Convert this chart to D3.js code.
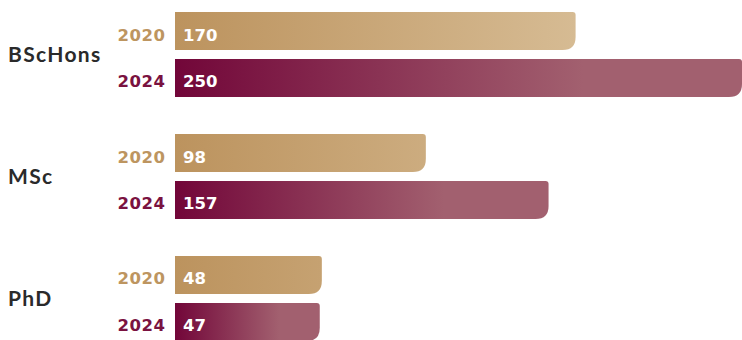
<!DOCTYPE html>
<html>
<head>
<meta charset="utf-8">
<script src="https://cdn.jsdelivr.net/npm/d3@7"></script>
<style>
  body { margin: 0; background: #fff; }
  svg { display: block; font-family: Lato, "Open Sans", sans-serif; }
  .num { font-family: "DejaVu Sans", sans-serif; }
</style>
</head>
<body>
<svg id="chart"></svg>
<script>
// data
const degrees = ["BScHons", "MSc", "PhD"];
const years = ["2020", "2024"];
const values2020 = [170, 98, 48];
const values2024 = [250, 157, 47];

const w = 742;
const h = 340;
const barStart = 175;

const yearColor = {"2020": "#bd9560", "2024": "#7a1240"};

let rows = [];
degrees.forEach((d, i) => {
	rows.push({degree: d, year: "2020", value: values2020[i]});
	rows.push({degree: d, year: "2024", value: values2024[i]});
});

let svg = d3.select("#chart")
			.attr("width", w)
			.attr("height", h);

let y0 = d3.scaleBand()
			.domain(degrees)
			.range([12, 341])
			.paddingInner(0.303)
			.paddingOuter(0);

let y1 = d3.scaleBand()
			.domain(years)
			.range([0, y0.bandwidth()])
			.paddingInner(0.19);

// bar length scale (bars have a minimum length in this design)
let len = d3.scaleLinear()
			.domain([0, 250])
			.range([47, 567]);

/* gradients */
let defs = svg.append("defs");

let gold = defs.append("linearGradient")
			.attr("id", "grad2020")
			.attr("gradientUnits", "userSpaceOnUse")
			.attr("x1", barStart).attr("x2", barStart + len(170))
			.attr("y1", 0).attr("y2", 0);
gold.append("stop").attr("offset", 0).attr("stop-color", "#bc935e");
gold.append("stop").attr("offset", 1).attr("stop-color", "#d6bb93");

let maroon = defs.append("linearGradient")
			.attr("id", "grad2024")
			.attr("x1", 0).attr("x2", 1)
			.attr("y1", 0).attr("y2", 0);
maroon.append("stop").attr("offset", 0).attr("stop-color", "#720639");
maroon.append("stop").attr("offset", 0.72).attr("stop-color", "#a2606f");
maroon.append("stop").attr("offset", 1).attr("stop-color", "#a2606f");

function barPath(x, y, width, height){
	let rt = 3, rb = 13;
	return `M${x},${y}H${x+width-rt}Q${x+width},${y} ${x+width},${y+rt}` +
		`V${y+height-rb}Q${x+width},${y+height} ${x+width-rb},${y+height}H${x}Z`;
}

/* category labels */
svg.selectAll("text.degree")
	.data(degrees)
	.enter()
	.append("text")
	.attr("class", "degree")
	.attr("x", 8)
	.attr("y", d => y0(d) + y0.bandwidth()/2 + 7.5)
	.attr("fill", "#2a2a2a")
	.attr("font-size", 21)
	.attr("font-weight", "bold")
	.attr("letter-spacing", 1.3)
	.text(d => d);

/* bars */
let groups = svg.selectAll("g.bar")
	.data(rows)
	.enter()
	.append("g")
	.attr("class", "bar")
	.attr("transform", d => `translate(0,${y0(d.degree) + y1(d.year)})`);

groups.append("path")
	.attr("d", d => barPath(barStart, 0, len(d.value), y1.bandwidth()))
	.attr("fill", d => `url(#grad${d.year})`);

groups.append("text")
	.attr("class", "num")
	.attr("x", 165.5)
	.attr("y", y1.bandwidth()/2 + 9.5)
	.attr("text-anchor", "end")
	.attr("fill", d => yearColor[d.year])
	.attr("font-size", 16.5)
	.attr("font-weight", "bold")
	.attr("letter-spacing", 0.5)
	.text(d => d.year);

groups.append("text")
	.attr("class", "num")
	.attr("x", barStart + 8)
	.attr("y", y1.bandwidth()/2 + 9.5)
	.attr("fill", "#fff")
	.attr("font-size", 16.5)
	.attr("font-weight", "bold")
	.text(d => d.value);
</script>
</body>
</html>
